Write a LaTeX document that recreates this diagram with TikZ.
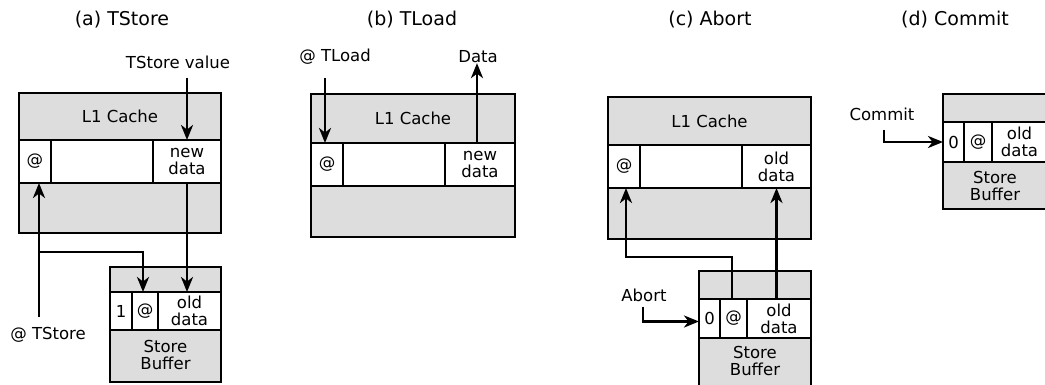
\documentclass[tikz,border=0pt]{standalone}
\usepackage{fontspec}
\setmainfont{DejaVu Sans}
\usetikzlibrary{arrows.meta}
\definecolor{boxgray}{RGB}{221,221,221}
\begin{document}
\begin{tikzpicture}[x=1pt,y=-1pt,
  every node/.style={font=\fontsize{16.5}{17}\selectfont, inner sep=0pt, outer sep=0pt},
  box/.style 2 args={draw, line width=2.8pt, fill=boxgray, minimum width=#1, minimum height=#2},
  cell/.style 2 args={draw, line width=2.8pt, fill=white, minimum width=#1, minimum height=#2, align=center},
  lbl/.style={align=center},
  title/.style={font=\fontsize{19}{22}\selectfont},
  arr/.style={line width=2.8pt, -{Stealth[length=15pt,width=12pt,inset=4.5pt]}}]
\useasboundingbox (0,0) rectangle (1045,385);

% ---------- (a) TStore ----------
\node[title] (tA) at (122,20) {(a) TStore};
\node[box={202pt}{140pt}] (l1A) at (120,163) {};
\node[lbl] (l1At) at (120,116.5) {L1 Cache};
\node[cell={32pt}{43pt}] (atA) at (35,161.5) {@};
\node[cell={102pt}{43pt}] (mA) at (102,161.5) {};
\node[cell={68pt}{43pt}] (ndA) at (187,161.5) {new\\data};
\node[box={111pt}{115pt}] (sbA) at (165.5,324.5) {};
\node[cell={22pt}{38pt}] (oneA) at (121,311) {1};
\node[cell={26pt}{38pt}] (atSA) at (145,311) {@};
\node[cell={63pt}{38pt}] (odA) at (189.5,311) {old\\data};
\node[lbl] (sbAt) at (165.5,355) {Store\\Buffer};
\node[lbl] (tsvL) at (178,62) {TStore value};
\node[lbl] (tsL) at (48,335) {@ TStore};
\coordinate (tsvS) at (187,78);
\coordinate (tsS) at (39,317);
\coordinate (tsB) at (39,252);
\draw[arr] (tsvS) -- (tsvS |- ndA.north);
\draw[arr] (ndA.south) -- (ndA.south |- odA.north);
\draw[arr] (tsS) -- (tsS |- atA.south);
\draw[arr] (tsB) -| ([xshift=-2pt]atSA.north);

% ---------- (b) TLoad ----------
\node[title] (tB) at (412,20) {(b) TLoad};
\node[box={204pt}{143pt}] (l1B) at (413,165.5) {};
\node[lbl] (l1Bt) at (413,118.5) {L1 Cache};
\node[cell={32pt}{43pt}] (atB) at (327,164.5) {@};
\node[cell={102pt}{43pt}] (mB) at (394,164.5) {};
\node[cell={70pt}{43pt}] (ndB) at (480,164.5) {new\\data};
\node[lbl] (tlL) at (335,57) {@ TLoad};
\node[lbl] (dataL) at (478,57) {Data};
\coordinate (tlS) at (325,78);
\draw[arr] (tlS) -- (tlS |- atB.north);
\draw[arr] ([xshift=-3pt]ndB.north) -- ([xshift=-3pt]ndB.north |- dataL.south);

% ---------- (c) Abort ----------
\node[title] (tC) at (710,20) {(c) Abort};
\node[box={203pt}{142pt}] (l1C) at (709.5,168) {};
\node[lbl] (l1Ct) at (709.5,121) {L1 Cache};
\node[cell={32pt}{43pt}] (atC) at (624,166.5) {@};
\node[cell={102pt}{43pt}] (mC) at (691,166.5) {};
\node[cell={69pt}{43pt}] (odC) at (776.5,166.5) {old\\data};
\node[box={112pt}{115pt}] (sbC) at (755,328.5) {};
\node[cell={21pt}{39pt}] (zeroC) at (709.5,318.5) {0};
\node[cell={27pt}{39pt}] (atSC) at (733.5,318.5) {@};
\node[cell={64pt}{39pt}] (odSC) at (779,318.5) {old\\data};
\node[lbl] (sbCt) at (755,361) {Store\\Buffer};
\node[lbl] (abL) at (644,295) {Abort};
\coordinate (abS) at (643,307);
\draw[arr] ([xshift=-1.5pt]atSC.north) -- ++(0,-42) -| ([xshift=2pt]atC.south);
\draw[arr] (odC.south |- odSC.north) -- (odC.south);
\draw[arr] (abS) |- ([yshift=-3pt]zeroC.west);

% ---------- (d) Commit ----------
\node[title] (tD) at (955,20) {(d) Commit};
\node[box={104pt}{115pt}] (sbD) at (995,151.5) {};
\node[cell={21pt}{40pt}] (zeroD) at (953.5,142) {0};
\node[cell={28pt}{40pt}] (atD) at (978,142) {@};
\node[cell={55pt}{40pt}] (odD) at (1019.5,142) {old\\data};
\node[lbl] (sbDt) at (995,185.5) {Store\\Buffer};
\node[lbl] (cmL) at (882,114) {Commit};
\coordinate (cmS) at (884,130);
\draw[arr] (cmS) |- (zeroD.west);
\end{tikzpicture}
\end{document}
